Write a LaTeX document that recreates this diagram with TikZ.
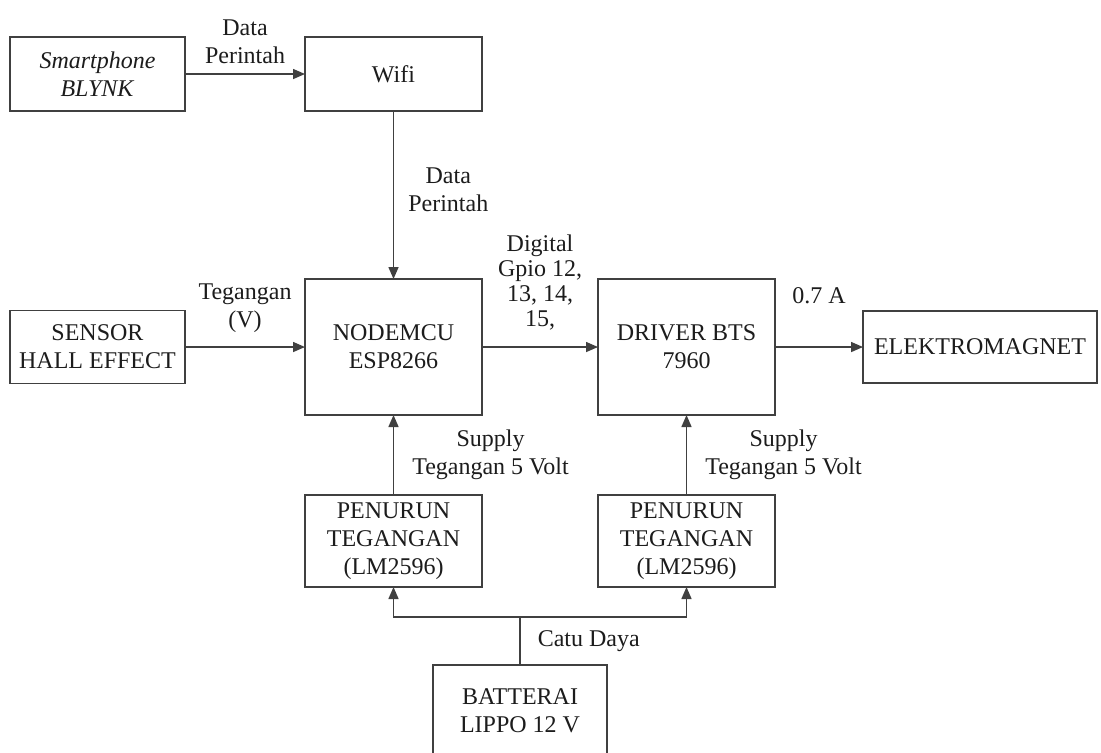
\documentclass[tikz,border=0pt]{standalone}
\usepackage{fontspec}
\setmainfont{Liberation Serif}
\usetikzlibrary{arrows.meta,positioning}
\definecolor{blokLine}{RGB}{64,64,64}
\definecolor{blokText}{RGB}{28,28,28}
\tikzset{
  blokbox/.style={rectangle, draw=blokLine, line width=0.9pt, fill=white, align=center,
    inner sep=2pt, outer sep=0pt, font=\fontsize{12}{14}\selectfont, text=blokText},
  siglabel/.style={align=center, inner sep=2pt, font=\fontsize{12}{14}\selectfont, text=blokText},
  panah/.style={-{Triangle[length=6pt,width=5pt]}, draw=blokLine, line width=0.75pt},
  kabel/.style={draw=blokLine, line width=0.75pt},
}
\begin{document}
\begin{tikzpicture}[x=0.5pt,y=-0.5pt]
  \useasboundingbox (0,0) rectangle (1101,752);
  \clip (0,0) rectangle (1101,752);

  % --- control input row ---
  \node[blokbox, minimum width=87.5pt, minimum height=37pt] (phone) at (97.5,74)
    {\textit{Smartphone}\\\textit{BLYNK}};
  \node[blokbox, minimum width=88.5pt, minimum height=37pt] (wifi) at (393.5,74) {Wifi};

  % --- main signal row ---
  \node[blokbox, minimum width=87.5pt, minimum height=36.5pt] (sensor) at (97.5,347)
    {SENSOR\\HALL EFFECT};
  \node[blokbox, minimum width=88.5pt, minimum height=68pt] (mcu) at (393.5,347)
    {NODEMCU\\ESP8266};
  \node[blokbox, minimum width=88.5pt, minimum height=68pt] (driver) at (686.5,347)
    {DRIVER BTS\\7960};
  \node[blokbox, minimum width=117pt, minimum height=36pt] (magnet) at (980,347)
    {ELEKTROMAGNET};

  % --- power supply row ---
  \node[blokbox, minimum width=88.5pt, minimum height=46pt] (turun1) at (393.5,541)
    {PENURUN\\TEGANGAN\\(LM2596)};
  \node[blokbox, minimum width=88.5pt, minimum height=46pt] (turun2) at (686.5,541)
    {PENURUN\\TEGANGAN\\(LM2596)};
  \node[blokbox, minimum width=87pt, minimum height=46pt] (baterai) at (520,711)
    {BATTERAI\\LIPPO 12 V};
  \coordinate (cabang) at (520,617);

  % --- connections ---
  \draw[panah] (phone) -- node[siglabel, above=3pt] {Data\\Perintah} (wifi);
  \draw[panah] (wifi) -- node[siglabel, right=5pt, pos=0.47] {Data\\Perintah} (mcu);
  \draw[panah] (sensor) -- node[siglabel, above=5pt] {Tegangan\\(V)} (mcu);
  \draw[panah] (mcu) -- node[siglabel, above=6pt, font=\fontsize{12}{12.5}\selectfont]
    {Digital\\Gpio 12,\\13, 14,\\15,} (driver);
  \draw[panah] (driver) -- node[siglabel, above=19pt] {0.7 A} (magnet);
  \draw[panah] (turun1) -- node[siglabel, right=7pt] {Supply\\Tegangan 5 Volt} (mcu);
  \draw[panah] (turun2) -- node[siglabel, right=7pt] {Supply\\Tegangan 5 Volt} (driver);
  \draw[kabel] (baterai.north) -- node[siglabel, right=6.5pt] {Catu Daya} (cabang);
  \draw[panah] (cabang) -| (turun1.south);
  \draw[panah] (cabang) -| (turun2.south);
\end{tikzpicture}
\end{document}
